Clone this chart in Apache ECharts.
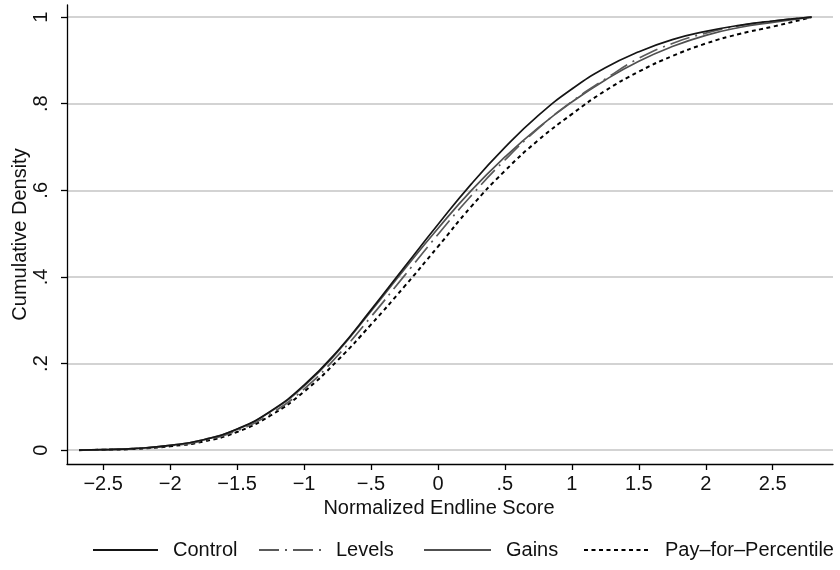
<!DOCTYPE html>
<html>
<head>
<meta charset="utf-8">
<script src="https://cdn.jsdelivr.net/npm/echarts@6/dist/echarts.min.js"></script>
<style>
html,body{margin:0;padding:0;background:#fff;}
#chart{width:840px;height:570px;}
</style>
</head>
<body>
<div id="chart"></div>
<script>
// Normalized endline score (x) sample points
const xValues = [-2.68, -2.5, -2.25, -2, -1.75, -1.5, -1.25, -1, -0.75, -0.5, -0.25, 0, 0.25, 0.5, 0.75, 1, 1.25, 1.5, 1.75, 2, 2.25, 2.5, 2.79];
// Cumulative density for each group
const control = [0, 0.001, 0.004, 0.011, 0.024, 0.049, 0.090, 0.150, 0.229, 0.324, 0.423, 0.521, 0.615, 0.699, 0.773, 0.834, 0.883, 0.920, 0.948, 0.967, 0.981, 0.991, 1];
const levels  = [0, 0.001, 0.004, 0.010, 0.022, 0.045, 0.084, 0.141, 0.218, 0.308, 0.403, 0.498, 0.588, 0.670, 0.743, 0.805, 0.857, 0.905, 0.939, 0.963, 0.980, 0.991, 1];
const gains   = [0, 0.001, 0.004, 0.011, 0.024, 0.048, 0.089, 0.148, 0.227, 0.321, 0.418, 0.512, 0.600, 0.677, 0.745, 0.804, 0.855, 0.898, 0.932, 0.958, 0.976, 0.988, 1];
const payForPercentile = [0, 0.001, 0.003, 0.009, 0.020, 0.042, 0.080, 0.135, 0.207, 0.290, 0.378, 0.470, 0.563, 0.645, 0.716, 0.776, 0.830, 0.874, 0.910, 0.939, 0.961, 0.978, 1];
// Tick labels
const xTicks = [-2.5, -2, -1.5, -1, -0.5, 0, 0.5, 1, 1.5, 2, 2.5];
const yTicks = [0, 0.2, 0.4, 0.6, 0.8, 1];
const seriesNames = ['Control', 'Levels', 'Gains', 'Pay\u2013for\u2013Percentile'];

function fmt(v) {
  if (Math.abs(v) < 1e-9) return '0';
  let s = String(Math.abs(Math.round(v * 10) / 10));
  if (s.startsWith('0.')) s = s.slice(1);
  return (v < 0 ? '\u2212' : '') + s;
}
function pairs(ys) { return xValues.map((x, i) => [x, ys[i]]); }

const FONT = '"Liberation Sans", Arial, Helvetica, sans-serif';
const chart = echarts.init(document.getElementById('chart'), null, {renderer: 'canvas'});

const styles = [
  {color: '#151515', type: 'solid', width: 1.7},
  {color: '#5a5a5a', type: [20, 6, 2, 6], width: 1.7},
  {color: '#505050', type: 'solid', width: 1.7},
  {color: '#000000', type: [4, 3.5], width: 2}
];
const datas = [control, levels, gains, payForPercentile];
const legendLefts = [87, 253, 418, 578];
const legendWidths = [65, 62, 67, 66];

const option = {
  backgroundColor: '#ffffff',
  animation: false,
  grid: {left: 67, right: 7, top: 5, bottom: 106, containLabel: false, outerBoundsMode: 'none'},
  legend: seriesNames.map((n, i) => ({
    data: [n],
    left: legendLefts[i],
    top: 535,
    itemWidth: legendWidths[i],
    itemHeight: 14,
    itemStyle: {color: 'rgba(0,0,0,0)', borderWidth: 0, opacity: 0},
    textStyle: {fontFamily: FONT, fontSize: 20, color: '#111', padding: [0, 0, 0, 10]},
    selectedMode: false
  })),
  xAxis: {
    type: 'value',
    min: -2.77,
    max: 2.95,
    name: 'Normalized Endline Score',
    nameLocation: 'middle',
    nameGap: 34,
    nameMoveOverlap: false,
    nameTextStyle: {fontFamily: FONT, fontSize: 20, color: '#111', padding: [0, 22, 0, 0]},
    axisLine: {show: true, onZero: false, lineStyle: {color: '#000', width: 1.3}},
    axisTick: {show: true, length: 6, customValues: xTicks, lineStyle: {color: '#000', width: 1.3}},
    axisLabel: {customValues: xTicks, formatter: fmt, fontFamily: FONT, fontSize: 20, color: '#111', margin: 10},
    splitLine: {show: false}
  },
  yAxis: {
    type: 'value',
    min: -0.032,
    max: 1.028,
    name: 'Cumulative Density',
    nameLocation: 'middle',
    nameGap: 37,
    nameMoveOverlap: false,
    nameTextStyle: {fontFamily: FONT, fontSize: 20, color: '#111'},
    axisLine: {show: true, onZero: false, lineStyle: {color: '#000', width: 1.3}},
    axisTick: {show: true, length: 6, customValues: yTicks, lineStyle: {color: '#000', width: 1.3}},
    axisLabel: {customValues: yTicks, formatter: fmt, rotate: 90, fontFamily: FONT, fontSize: 20, color: '#111', margin: 16},
    splitLine: {show: true, lineStyle: {color: '#c4c4c4', width: 1.6}}
  },
  series: seriesNames.map((n, i) => ({
    name: n,
    type: 'line',
    data: pairs(datas[i]),
    smooth: 0.5,
    symbol: 'none',
    showSymbol: false,
    color: styles[i].color,
    lineStyle: {color: styles[i].color, type: styles[i].type, width: styles[i].width},
    z: 10 - i
  }))
};
chart.setOption(option);
</script>
</body>
</html>
